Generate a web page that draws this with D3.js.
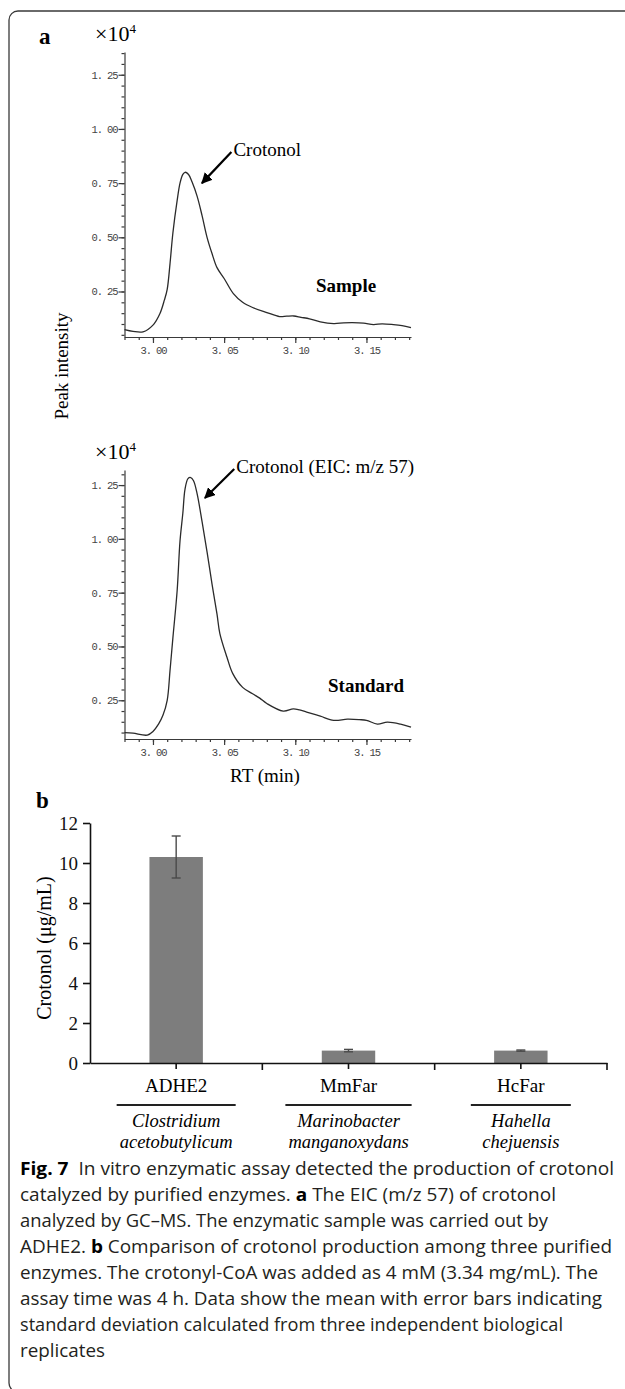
<!DOCTYPE html>
<html>
<head>
<meta charset="utf-8">
<script src="https://cdn.jsdelivr.net/npm/d3@7"></script>
<style>
body { margin: 0; background: #fff; }
svg { display: block; }
</style>
</head>
<body>
<svg id="fig" width="625" height="1389"></svg>
<script>

// panel a : chromatograms, RT (min) vs peak intensity (x10^4)
var sampleRT = [2.980, 2.986, 2.993, 3.000, 3.005, 3.008, 3.010, 3.012, 3.014, 3.017, 3.019, 3.021, 3.0225, 3.025, 3.0275,
	3.031, 3.0345, 3.038, 3.0415, 3.045, 3.050, 3.0565, 3.063, 3.070, 3.080, 3.089, 3.094, 3.099, 3.104, 3.110,
	3.1176, 3.127, 3.134, 3.140, 3.148, 3.155, 3.161, 3.169, 3.175, 3.1813];
var sampleInt = [0.074, 0.066, 0.064, 0.095, 0.15, 0.21, 0.26, 0.38, 0.52, 0.67, 0.75, 0.79, 0.80, 0.79, 0.755,
	0.69, 0.60, 0.50, 0.425, 0.36, 0.31, 0.24, 0.20, 0.176, 0.153, 0.134, 0.136, 0.137, 0.131, 0.124,
	0.110, 0.102, 0.105, 0.106, 0.104, 0.097, 0.101, 0.097, 0.092, 0.083];

var standardRT = [2.980, 2.986, 2.996, 3.000, 3.004, 3.007, 3.010, 3.012, 3.014, 3.017, 3.019, 3.021, 3.0225, 3.0246,
	3.0265, 3.0285, 3.031, 3.0345, 3.038, 3.0415, 3.045, 3.047, 3.052, 3.056, 3.063, 3.070, 3.075, 3.080,
	3.0915, 3.0986, 3.103, 3.108, 3.1176, 3.127, 3.1366, 3.145, 3.150, 3.1577, 3.1647, 3.174, 3.1813];
var standardInt = [0.10, 0.097, 0.088, 0.105, 0.14, 0.18, 0.25, 0.39, 0.54, 0.76, 0.99, 1.12, 1.23, 1.28,
	1.285, 1.27, 1.21, 1.08, 0.94, 0.79, 0.65, 0.56, 0.45, 0.375, 0.31, 0.28, 0.26, 0.235,
	0.20, 0.21, 0.205, 0.195, 0.176, 0.157, 0.162, 0.16, 0.157, 0.139, 0.148, 0.139, 0.125];

var rtTicks = [3.00, 3.05, 3.10, 3.15];
var intTicks = [0.25, 0.50, 0.75, 1.00, 1.25];

// panel b : crotonol production
var enzymes = ['ADHE2', 'MmFar', 'HcFar'];
var species = [['Clostridium', 'acetobutylicum'], ['Marinobacter', 'manganoxydans'], ['Hahella', 'chejuensis']];
var crotonolMean = [10.3, 0.62, 0.62];
var crotonolSD = [1.05, 0.06, 0.03];
var barTicks = [0, 2, 4, 6, 8, 10, 12];

// caption, one entry per line, [text, bold] pieces
var captionLines = [
	[['Fig. 7', true], ['  In vitro enzymatic assay detected the production of crotonol', false]],
	[['catalyzed by purified enzymes. ', false], ['a', true], [' The EIC (m/z 57) of crotonol', false]],
	[['analyzed by GC\u2013MS. The enzymatic sample was carried out by', false]],
	[['ADHE2. ', false], ['b', true], [' Comparison of crotonol production among three purified', false]],
	[['enzymes. The crotonyl-CoA was added as 4 mM (3.34 mg/mL). The', false]],
	[['assay time was 4 h. Data show the mean with error bars indicating', false]],
	[['standard deviation calculated from three independent biological', false]],
	[['replicates', false]]
];
var captionWidths = [594, 536, 528, 592, 578, 582, 543, 85];

var serif = '"Liberation Serif", "Times New Roman", serif';
var svg = d3.select('#fig');

svg.append('rect').attr('width', 625).attr('height', 1389).attr('fill', '#fff');

// outer frame with rounded corners
svg.append('rect')
	.attr('x', 9).attr('y', 11)
	.attr('width', 700).attr('height', 1381)
	.attr('rx', 9)
	.attr('fill', 'none')
	.attr('stroke', '#3a3a3a')
	.attr('stroke-width', 1.3);

svg.append('defs').append('marker')
	.attr('id', 'arrowhead')
	.attr('viewBox', '0 0 10 10')
	.attr('refX', 9).attr('refY', 5)
	.attr('markerWidth', 5).attr('markerHeight', 5)
	.attr('markerUnits', 'strokeWidth')
	.attr('orient', 'auto')
	.append('path')
	.attr('d', 'M0,0 L10,5 L0,10 z')
	.attr('fill', '#000');

var x = d3.scaleLinear().domain([2.98, 3.1813]).range([124.5, 411]);
var fmtTick = function(d) { return d3.format('.2f')(d).replace('.', '. '); };

function drawChrom(rt, vals, cfg) {
	var g = svg.append('g');
	var y = d3.scaleLinear().domain([cfg.yMin, cfg.yMax]).range([cfg.bottom, cfg.top]);

	// minor ticks
	var minorX = d3.range(2.98, 3.1815, 0.01);
	g.append('g')
		.attr('transform', 'translate(0,' + cfg.bottom + ')')
		.call(d3.axisBottom(x).tickValues(minorX).tickSize(3).tickFormat(''))
		.call(function(a) { a.select('.domain').remove(); });
	var minorY = d3.range(0.05, cfg.yMax, 0.05).filter(function(v) { return v > cfg.yMin; });
	g.append('g')
		.attr('transform', 'translate(' + x.range()[0] + ',0)')
		.call(d3.axisLeft(y).tickValues(minorY).tickSize(3).tickFormat(''))
		.call(function(a) { a.select('.domain').remove(); });

	g.append('g')
		.attr('transform', 'translate(0,' + cfg.bottom + ')')
		.call(d3.axisBottom(x).tickValues(rtTicks).tickSize(6).tickSizeOuter(0).tickPadding(4).tickFormat(fmtTick));
	g.append('g')
		.attr('transform', 'translate(' + x.range()[0] + ',0)')
		.call(d3.axisLeft(y).tickValues(intTicks).tickSize(6).tickSizeOuter(0).tickPadding(1).tickFormat(fmtTick));

	g.selectAll('.tick line, .domain').attr('stroke', '#3a3a3a').attr('stroke-width', 1.2);
	g.selectAll('.tick text')
		.attr('fill', '#444')
		.style('font-family', '"Liberation Mono", "DejaVu Sans Mono", monospace')
		.style('font-size', '10.5px')
		.style('letter-spacing', '-1.1px');

	g.append('path')
		.datum(d3.zip(rt, vals))
		.attr('fill', 'none')
		.attr('stroke', '#2b2b2b')
		.attr('stroke-width', 1.3)
		.attr('d', d3.line()
			.x(function(d) { return x(d[0]); })
			.y(function(d) { return y(d[1]); })
			.curve(d3.curveCatmullRom.alpha(0.5)));

	// x10^4 label
	var mult = g.append('text')
		.attr('x', 95).attr('y', cfg.multY)
		.style('font-family', serif).style('font-size', '22px');
	mult.append('tspan').text('\u00d710');
	mult.append('tspan').attr('dy', -8).style('font-size', '13px').text('4');

	// annotation
	g.append('line')
		.attr('x1', x(cfg.label[0]) - 2).attr('y1', y(cfg.label[1]) - 4)
		.attr('x2', x(cfg.tip[0])).attr('y2', y(cfg.tip[1]))
		.attr('stroke', '#000').attr('stroke-width', 2.2)
		.attr('marker-end', 'url(#arrowhead)');
	g.append('text')
		.attr('x', x(cfg.label[0])).attr('y', y(cfg.label[1]))
		.style('font-family', serif).style('font-size', '19px')
		.text(cfg.text);
	g.append('text')
		.attr('x', x(cfg.tag[0])).attr('y', y(cfg.tag[1]))
		.style('font-family', serif).style('font-size', '19px').style('font-weight', 'bold')
		.text(cfg.tagText);
}

drawChrom(sampleRT, sampleInt, {
	top: 52, bottom: 337, yMin: 0.04, yMax: 1.355, multY: 41,
	tip: [3.0344, 0.75], label: [3.0565, 0.875], text: 'Crotonol',
	tag: [3.1145, 0.248], tagText: 'Sample'
});
drawChrom(standardRT, standardInt, {
	top: 470, bottom: 739, yMin: 0.07, yMax: 1.32, multY: 459,
	tip: [3.0365, 1.19], label: [3.0585, 1.306], text: 'Crotonol (EIC: m/z 57)',
	tag: [3.123, 0.287], tagText: 'Standard'
});

svg.append('text')
	.attr('transform', 'translate(68,366) rotate(-90)')
	.attr('text-anchor', 'middle')
	.style('font-family', serif).style('font-size', '19px')
	.text('Peak intensity');
svg.append('text')
	.attr('x', 265).attr('y', 782)
	.attr('text-anchor', 'middle')
	.style('font-family', serif).style('font-size', '19px')
	.text('RT (min)');

// panel letters
svg.append('text').attr('x', 39).attr('y', 44)
	.style('font-family', serif).style('font-size', '23px').style('font-weight', 'bold').text('a');
svg.append('text').attr('x', 36).attr('y', 808)
	.style('font-family', serif).style('font-size', '23px').style('font-weight', 'bold').text('b');

// panel b bar chart
var xb = d3.scaleBand().domain(enzymes).range([90, 607]).paddingInner(0.69).paddingOuter(0.345);
var yb = d3.scaleLinear().domain([0, 12]).range([1063, 823]);
var gb = svg.append('g');

gb.selectAll('rect.bar')
	.data(enzymes)
	.enter()
	.append('rect')
	.attr('class', 'bar')
	.attr('x', function(d) { return xb(d); })
	.attr('width', xb.bandwidth())
	.attr('y', function(d, i) { return yb(crotonolMean[i]); })
	.attr('height', function(d, i) { return yb(0) - yb(crotonolMean[i]); })
	.attr('fill', '#7d7d7d');

var err = gb.selectAll('g.err')
	.data(enzymes)
	.enter()
	.append('g')
	.attr('class', 'err')
	.attr('stroke', '#4a4a4a')
	.attr('stroke-width', 1.4);
err.append('line')
	.attr('x1', function(d) { return xb(d) + xb.bandwidth() / 2; })
	.attr('x2', function(d) { return xb(d) + xb.bandwidth() / 2; })
	.attr('y1', function(d, i) { return yb(crotonolMean[i] + crotonolSD[i]); })
	.attr('y2', function(d, i) { return yb(crotonolMean[i] - crotonolSD[i]); });
[1, -1].forEach(function(s) {
	err.append('line')
		.attr('x1', function(d) { return xb(d) + xb.bandwidth() / 2 - 4.5; })
		.attr('x2', function(d) { return xb(d) + xb.bandwidth() / 2 + 4.5; })
		.attr('y1', function(d, i) { return yb(crotonolMean[i] + s * crotonolSD[i]); })
		.attr('y2', function(d, i) { return yb(crotonolMean[i] + s * crotonolSD[i]); });
});

var yAxisB = gb.append('g')
	.attr('transform', 'translate(90,0)')
	.call(d3.axisLeft(yb).tickValues(barTicks).tickSize(7).tickSizeOuter(0).tickPadding(5));
var xAxisB = gb.append('g')
	.attr('transform', 'translate(0,1063)')
	.call(d3.axisBottom(xb).tickSize(6).tickSizeOuter(0).tickFormat(''));
// tick marks at the category boundaries
var step = xb.step();
xAxisB.selectAll('line.bound')
	.data(enzymes)
	.enter()
	.append('line')
	.attr('class', 'bound')
	.attr('x1', function(d, i) { return 90 + step * (i + 1); })
	.attr('x2', function(d, i) { return 90 + step * (i + 1); })
	.attr('y1', 0).attr('y2', 7);
gb.selectAll('.tick line, .domain, line.bound').attr('stroke', '#111').attr('stroke-width', 1.6);
yAxisB.selectAll('.tick text')
	.attr('fill', '#111')
	.style('font-family', serif).style('font-size', '19px');

svg.append('text')
	.attr('transform', 'translate(51,948) rotate(-90)')
	.attr('text-anchor', 'middle')
	.style('font-family', serif).style('font-size', '20px')
	.text('Crotonol (\u03bcg/mL)');

// category labels, underline and species names
var cat = gb.selectAll('g.cat')
	.data(enzymes)
	.enter()
	.append('g')
	.attr('class', 'cat')
	.attr('transform', function(d) { return 'translate(' + (xb(d) + xb.bandwidth() / 2) + ',0)'; });
cat.append('text')
	.attr('y', 1092)
	.attr('text-anchor', 'middle')
	.style('font-family', serif).style('font-size', '19px')
	.text(function(d) { return d; });
cat.each(function(d, i) {
	var c = d3.select(this);
	var widest = 0;
	species[i].forEach(function(s, k) {
		var t = c.append('text')
			.attr('y', 1127 + k * 21)
			.attr('text-anchor', 'middle')
			.style('font-family', serif).style('font-size', '18.5px').style('font-style', 'italic')
			.text(s);
		widest = Math.max(widest, t.node().getComputedTextLength());
	});
	var w = Math.max(widest + 6, 100);
	c.append('line')
		.attr('x1', -w / 2).attr('x2', w / 2)
		.attr('y1', 1105).attr('y2', 1105)
		.attr('stroke', '#222').attr('stroke-width', 2);
});

// caption
var cap = svg.append('g');
captionLines.forEach(function(line, i) {
	var t = cap.append('text')
		.attr('x', 20).attr('y', 1175 + i * 26)
		.attr('fill', '#231f20')
		.style('font-family', '"Open Sans", "Noto Sans", sans-serif')
		.style('font-size', '18px')
		.attr('xml:space', 'preserve')
		.style('white-space', 'pre');
	line.forEach(function(p) {
		t.append('tspan')
			.style('font-weight', p[1] ? 'bold' : 'normal')
			.attr('fill', p[1] ? '#000' : '#231f20')
			.text(p[0]);
	});
	t.attr('textLength', captionWidths[i]).attr('lengthAdjust', 'spacingAndGlyphs');
});

</script>
</body>
</html>
